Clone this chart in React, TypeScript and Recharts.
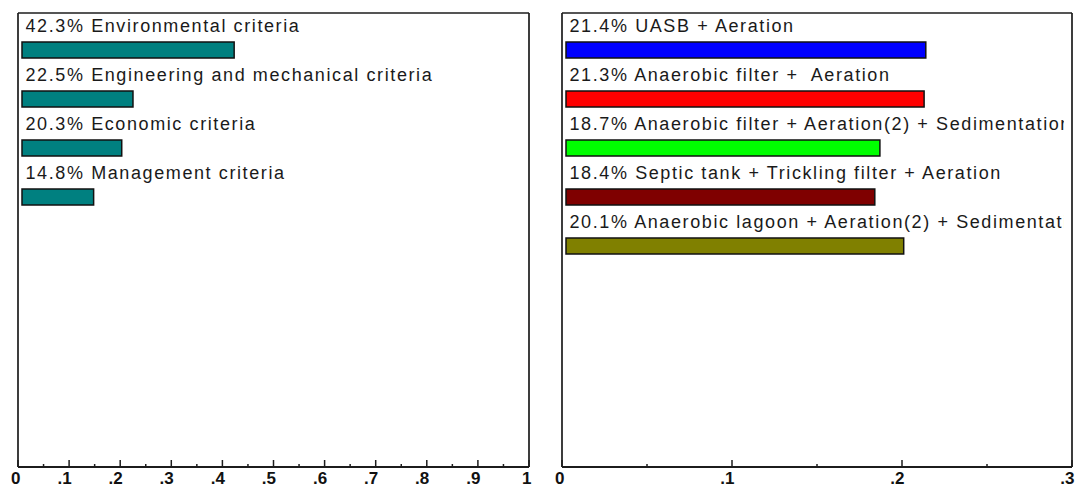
import { BarChart, Bar, XAxis, YAxis, LabelList } from "recharts";

const CRITERIA = [
  "Environmental criteria",
  "Engineering and mechanical criteria",
  "Economic criteria",
  "Management criteria",
];
const CRITERIA_WEIGHTS = [0.423, 0.225, 0.203, 0.148];
const CRITERIA_COLORS = ["#008080", "#008080", "#008080", "#008080"];

const OPTIONS = [
  "UASB + Aeration",
  "Anaerobic filter +  Aeration",
  "Anaerobic filter + Aeration(2) + Sedimentation",
  "Septic tank + Trickling filter + Aeration",
  "Anaerobic lagoon + Aeration(2) + Sedimentation",
];
const OPTION_SCORES = [0.214, 0.213, 0.187, 0.184, 0.201];
const OPTION_COLORS = ["#0000ff", "#ff0000", "#00ff00", "#7f0000", "#808000"];

const LEFT_MAJOR = [0, 0.1, 0.2, 0.3, 0.4, 0.5, 0.6, 0.7, 0.8, 0.9, 1];
const LEFT_MINOR = [0.05, 0.15, 0.25, 0.35, 0.45, 0.55, 0.65, 0.75, 0.85, 0.95];
const RIGHT_MAJOR = [0, 0.1, 0.2, 0.3];
const RIGHT_MINOR = [0.05, 0.15, 0.25];

const HEIGHT = 488;
const TOP = 13;
const AXIS_H = 21;
const PLOT_H = HEIGHT - TOP - AXIS_H;
const ROW = 49;
const PAD_TOP = 12;
const INK = "#1c1c1c";

const fmtTick = (v: number) => (v === 0 || v === 1 ? String(v) : String(v).replace(/^0/, ""));

function AxisTick(props: any) {
  const { x, y, payload, majors } = props;
  const major = majors.includes(payload.value);
  return (
    <g>
      <line x1={x} x2={x} y1={y} y2={y - (major ? 7 : 3)} stroke={INK} strokeWidth={1.5} />
      {major && (
        <text
          x={x + 2.5}
          y={y + 17}
          textAnchor="end"
          fontFamily="'Liberation Sans', Arial, sans-serif"
          fontWeight="bold"
          fontSize={17}
          fill="#111"
        >
          {fmtTick(payload.value)}
        </text>
      )}
    </g>
  );
}

interface PanelProps {
  names: string[];
  values: number[];
  colors: string[];
  max: number;
  majors: number[];
  minors: number[];
  left: number;
  width: number;
  marginLeft: number;
  marginRight: number;
}

function Panel({ names, values, colors, max, majors, minors, left, width, marginLeft, marginRight }: PanelProps) {
  const data = names.map((name, i) => ({ name, value: values[i] }));
  const clipRight = width - marginRight - 8;

  const renderLabel = (p: any) => {
    const tx = p.x + 7.5;
    const text = `${(values[p.index] * 100).toFixed(1)}% ${names[p.index]}`;
    return (
      <svg x={tx} y={p.y - 30} width={Math.max(clipRight - tx, 0)} height={30} style={{ overflow: "hidden" }}>
        <text
          x={0}
          y={20}
          fontFamily="'Liberation Sans', Arial, sans-serif"
          fontSize={18}
          letterSpacing={1.6}
          fill="#1a1a1a"
          style={{ whiteSpace: "pre" }}
        >
          {text}
        </text>
      </svg>
    );
  };

  const renderBar = (p: any) => (
    <rect
      x={p.x + 4}
      y={p.y}
      width={Math.max(p.width - 4, 0)}
      height={p.height}
      fill={colors[p.index]}
      stroke="#111"
      strokeWidth={1.5}
    />
  );

  return (
    <div style={{ position: "absolute", left, top: 0 }}>
      <BarChart
        width={width}
        height={HEIGHT}
        data={data}
        layout="vertical"
        margin={{ top: TOP - 1, left: marginLeft - 1, right: marginRight - 1, bottom: 0 }}
      >
        <XAxis
          type="number"
          domain={[0, max]}
          ticks={[...majors, ...minors].sort((a, b) => a - b)}
          interval={0}
          height={AXIS_H}
          tickSize={0}
          tickMargin={0}
          tickLine={false}
          axisLine={{ stroke: INK, strokeWidth: 2 }}
          tick={(p: any) => <AxisTick {...p} majors={majors} />}
        />
        <XAxis
          xAxisId="top"
          orientation="top"
          type="number"
          domain={[0, max]}
          height={1}
          tick={false}
          tickLine={false}
          axisLine={{ stroke: INK, strokeWidth: 1.7 }}
        />
        <YAxis
          type="category"
          dataKey="name"
          width={1}
          tick={false}
          tickLine={false}
          padding={{ top: PAD_TOP, bottom: PLOT_H - PAD_TOP - ROW * names.length }}
          axisLine={{ stroke: INK, strokeWidth: 1.7 }}
        />
        <YAxis
          yAxisId="right"
          orientation="right"
          type="category"
          dataKey="name"
          width={1}
          tick={false}
          tickLine={false}
          axisLine={{ stroke: INK, strokeWidth: 1.7 }}
        />
        <Bar dataKey="value" barSize={16} isAnimationActive={false} shape={renderBar}>
          <LabelList dataKey="value" content={renderLabel} />
        </Bar>
      </BarChart>
    </div>
  );
}

export default function App() {
  return (
    <div style={{ position: "absolute", left: 0, top: 0, width: 1077, height: HEIGHT, background: "#fff" }}>
      <Panel
        names={CRITERIA}
        values={CRITERIA_WEIGHTS}
        colors={CRITERIA_COLORS}
        max={1}
        majors={LEFT_MAJOR}
        minors={LEFT_MINOR}
        left={0}
        width={540}
        marginLeft={18}
        marginRight={11}
      />
      <Panel
        names={OPTIONS}
        values={OPTION_SCORES}
        colors={OPTION_COLORS}
        max={0.3}
        majors={RIGHT_MAJOR}
        minors={RIGHT_MINOR}
        left={540}
        width={537}
        marginLeft={22}
        marginRight={5}
      />
    </div>
  );
}
